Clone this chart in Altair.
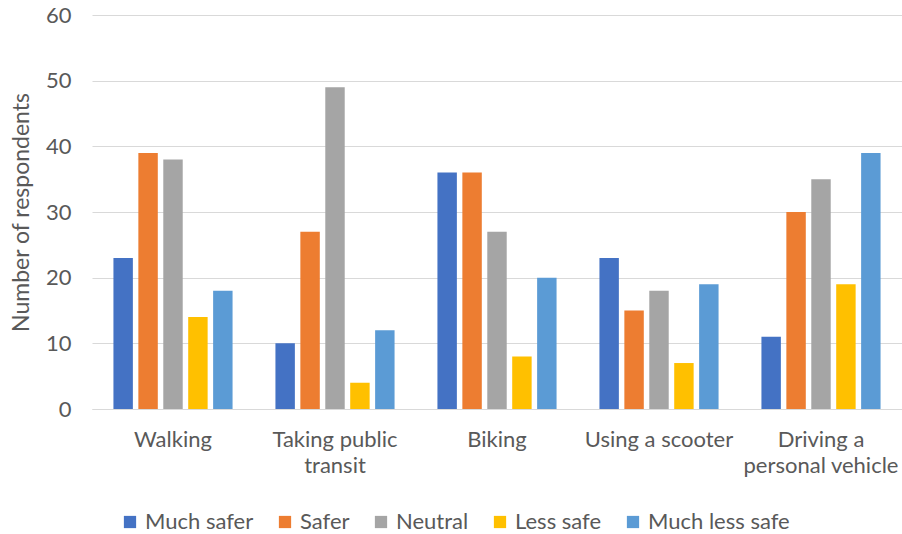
import altair as alt
import pandas as pd

categories = ["Walking", "Taking public transit", "Biking", "Using a scooter", "Driving a personal vehicle"]
responses = ["Much safer", "Safer", "Neutral", "Less safe", "Much less safe"]
much_safer = [23, 10, 36, 23, 11]
safer = [39, 27, 36, 15, 30]
neutral = [38, 49, 27, 18, 35]
less_safe = [14, 4, 8, 7, 19]
much_less_safe = [18, 12, 20, 19, 39]
colors = ["#4472C4", "#ED7D31", "#A5A5A5", "#FFC000", "#5B9BD5"]

series = [much_safer, safer, neutral, less_safe, much_less_safe]
rows = []
for r, vals in zip(responses, series):
    for c, v in zip(categories, vals):
        rows.append({"Mode": c, "Response": r, "Count": v})
df = pd.DataFrame(rows)

FONT = "Lato"
GREY = "#595959"
FS = 22

label_expr = ("datum.label == 'Taking public transit' ? ['Taking public', 'transit'] : "
              "datum.label == 'Driving a personal vehicle' ? ['Driving a', 'personal vehicle'] : datum.label")

chart = alt.Chart(df).mark_bar().encode(
    x=alt.X("Mode:N", sort=categories, title=None,
            scale=alt.Scale(paddingInner=0, paddingOuter=0),
            axis=alt.Axis(labelAngle=0, labelExpr=label_expr, ticks=False, domain=True,
                          domainColor="#D9D9D9", labelFontSize=FS, labelColor=GREY,
                          labelFont=FONT, labelPadding=20, labelLineHeight=26)),
    xOffset=alt.XOffset("Response:N", sort=responses,
                        scale=alt.Scale(paddingInner=0.22, paddingOuter=0.86)),
    y=alt.Y("Count:Q", title="Number of respondents",
            scale=alt.Scale(domain=[0, 60], nice=False),
            axis=alt.Axis(values=[0, 10, 20, 30, 40, 50, 60], ticks=False, domain=False,
                          gridColor="#D9D9D9", gridWidth=1, labelFontSize=FS,
                          labelColor=GREY, labelFont=FONT, labelPadding=21,
                          titleFontSize=23, titleFont=FONT, titleColor=GREY,
                          titleFontWeight="normal", titlePadding=12)),
    color=alt.Color("Response:N", sort=responses,
                    scale=alt.Scale(domain=responses, range=colors),
                    legend=alt.Legend(title=None, orient="none", direction="horizontal",
                                      legendX=27, legendY=496, symbolType="square",
                                      symbolSize=150, symbolStrokeWidth=0,
                                      labelFontSize=FS, labelColor=GREY, labelFont=FONT,
                                      columnPadding=20, symbolOpacity=1)),
).properties(
    width=810, height=394,
    autosize=alt.AutoSizeParams(type="none"),
    padding={"left": 92, "top": 15, "right": 0, "bottom": 125},
).configure_view(stroke=None)

chart.save("out.html", embed_options={"renderer": "svg", "actions": False})
